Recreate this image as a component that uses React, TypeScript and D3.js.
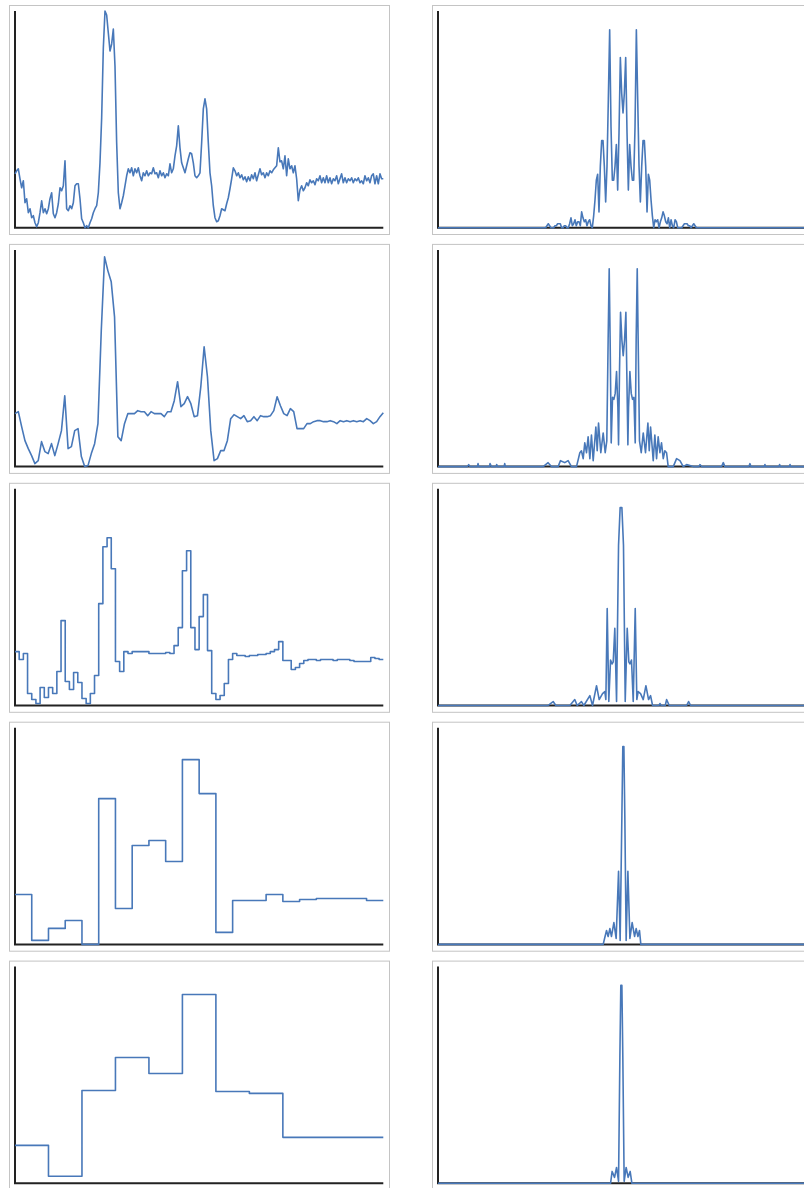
import React from 'react';
import * as d3 from 'd3';

// ---- left column: the signal and its coarser approximations (arbitrary units) ----
const signalRaw = [
  54, 57, 59, 49, 40, 47, 25, 29, 15, 19,
  10, 12, 5, 1, 5, 15, 27, 15, 19, 14,
  19, 29, 35, 14, 10, 15, 24, 40, 37, 42,
  67, 19, 17, 22, 19, 25, 42, 44, 44, 29,
  9, 5, 0, 2, 0, 5, 9, 15, 19, 22,
  35, 65, 110, 180, 217, 213, 195, 177, 184, 199,
  162, 85, 35, 19, 25, 32, 42, 52, 59, 55,
  60, 52, 59, 55, 60, 52, 47, 55, 52, 57,
  52, 55, 54, 60, 54, 55, 50, 57, 52, 55,
  50, 54, 52, 64, 55, 59, 72, 82, 102, 80,
  65, 60, 55, 62, 69, 75, 74, 65, 52, 50,
  52, 55,
  85, 119, 129, 119, 85, 55, 42, 22, 10, 6,
  7, 12, 19, 18, 17, 24, 30, 39, 49, 60,
  57, 52, 55, 50, 53, 48, 51, 46, 51, 47,
  53, 49, 55, 47, 53, 59, 53, 55, 50, 55,
  52, 57, 55, 58, 60, 62, 80, 66, 67, 59,
  72, 52, 69, 59, 62, 55, 62, 49, 27, 38,
  42, 37, 40, 45, 42, 48, 45, 47, 43, 49,
  47, 52, 45, 50, 45, 52, 45, 50, 44, 49,
  47, 52, 44, 49, 54, 45, 50, 45, 49, 47,
  50, 45, 49, 47, 50, 45, 47, 44, 52, 47,
  50, 45, 52, 54, 44, 52, 44, 54, 49, 49,
];

const signalSmooth = [
  53, 55, 40, 26, 18, 11, 3, 6, 25, 15,
  13, 23, 11, 23, 36, 71, 18, 20, 36, 38,
  10, 0, 1, 13, 23, 43, 136, 210, 196, 185,
  150, 30, 26, 43, 53, 53, 53, 56, 55, 55,
  51, 55, 53, 53, 53, 50, 55, 55, 66, 85,
  60, 63, 70, 63, 50, 51,
  80, 120, 90, 36, 6, 8, 16, 16, 26, 48,
  52, 50, 48, 51, 45, 46, 50, 46, 51, 50,
  50, 51, 56, 70, 61, 53, 51, 58, 55, 38,
  38, 38, 43, 43, 45, 46, 46, 45, 45, 46,
  45, 43, 46, 45, 46, 45, 46, 45, 46, 45,
  48, 46, 43, 45, 50, 54,
];

const approxLevel3 = [
  54, 46, 52, 12, 6, 2, 18, 8, 18, 12,
  34, 85, 24, 16, 33, 23, 7, 2, 12, 30,
  102, 159, 168, 137, 44, 34, 54, 52, 54, 54,
  54, 54, 52, 52, 52, 52, 53, 52, 60, 78,
  135, 155, 78, 56, 89, 111, 55, 12, 6, 10,
  22, 46, 52, 50, 50, 49, 50, 50, 51, 51,
  52, 54, 56, 64, 45, 45, 36, 38, 42, 45,
  46, 46, 45, 46, 46, 46, 45, 46, 46, 46,
  45, 44, 44, 44, 44, 48, 47, 46,
];

const approxLevel4 = [50, 4, 16, 24, 0, 146, 36, 99, 104, 83, 185, 151, 12, 44, 44, 50, 43, 45, 46, 46, 46, 44];

const approxLevel5 = [38, 7, 93, 126, 110, 189, 92, 90, 46, 46, 46];

// ---- right column: magnitude spectra (centred frequency, % of peak) ----
const spectrumRawStart = -57.35;
const spectrumRaw = [
  0, 1, 2, 1, 0, 0, 0, 1, 1, 2,
  2, 2, 0, 0, 1, 1, 0, 0, 2, 5,
  1, 2, 4, 1, 3, 3, 1, 8, 5, 3,
  4, 1, 3, 4, 1, 0, 6, 14, 24, 27,
  8, 31, 44, 44, 31, 13, 31, 65, 100, 51,
  24, 24, 31, 42, 19, 48, 86, 68, 58, 68,
  86, 48, 19, 42, 31, 24, 24, 51, 100, 65,
  31, 13, 31, 44, 44, 31, 8, 27, 24, 14,
  6, 0, 4, 3, 4, 0, 3, 5, 8, 6,
  3, 2, 5, 0, 4, 1, 0, 4, 3, 0,
  0, 0, 0, 1, 2, 2, 2, 1, 1, 0,
  1, 2, 1, 0, 0, 0, 0,
];

const spectrumSmooth = [
  [-116, 0], [-115, 1], [-114, 0], [-108.5, 0], [-108, 1.5], [-107.5, 0], [-99.5, 0], [-99, 1.5],
  [-98, 0], [-94.5, 0], [-94, 1], [-93.5, 0], [-88.5, 0], [-88, 1.5], [-87.5, 0],
  [-59.2, 0], [-55.5, 2], [-53, 0], [-48, 0], [-46.2, 3], [-43, 2], [-40.5, 3], [-38, 0],
  [-34.2, 0], [-31.7, 7], [-30.5, 8], [-29.2, 4], [-28, 12], [-26.7, 7], [-25.5, 15], [-24.2, 4],
  [-23, 16], [-21.7, 3], [-19.7, 20], [-18.7, 8], [-17.7, 22], [-16, 7], [-14.2, 17], [-12.7, 7],
  [-11.5, 13], [-10.5, 64], [-9.7, 100], [-9, 64], [-8.2, 12], [-7.2, 35], [-6.2, 34], [-5.2, 37],
  [-4.2, 48], [-3.2, 30], [-2.7, 11], [-2, 47], [-1.2, 78], [-0.2, 64], [0.8, 56], [1.8, 64],
  [2.8, 78], [3.5, 47], [4.3, 11], [4.8, 30], [5.8, 48], [6.8, 37], [7.8, 34], [8.8, 35],
  [9.8, 12], [10.5, 64], [11.3, 100], [12, 64], [13, 13], [14.3, 7], [15.8, 17], [17.5, 7],
  [19.3, 22], [20.3, 8], [21.3, 20], [23.3, 3], [24.5, 16], [25.8, 4], [27, 15], [28.3, 7],
  [29.5, 12], [30.8, 4], [32, 8], [33.3, 7], [34.5, 0], [38.3, 0], [40.8, 4], [43.3, 3],
  [45.8, 0], [48.3, 1], [53.3, 0], [57.5, 0], [58.3, 1], [59.5, 0], [74.5, 0], [75.8, 2], [77, 0],
  [95, 0], [95.8, 1.5], [96.5, 0], [106.5, 0], [107, 1], [107.5, 0], [117.5, 0], [118, 1],
  [118.5, 0], [125.3, 0], [125.8, 1], [126.3, 0],
];

const spectrumLevel3 = [
  [-55.5, 0], [-53.7, 1], [-51.7, 2], [-49.7, 0], [-39.2, 0], [-35.5, 3], [-33.7, 0], [-30.5, 2],
  [-28.7, 0], [-24.2, 5], [-22.2, 0], [-19.2, 10], [-17.2, 3], [-14.7, 6], [-13, 7], [-12.2, 3],
  [-11.2, 49], [-10, 2], [-8.7, 23], [-7.5, 21], [-6.7, 22], [-5.5, 39], [-4.2, 2], [-2.7, 81],
  [-1.5, 100], [-0.2, 100], [1, 81], [2.3, 2], [3.8, 39], [5, 22], [5.8, 21], [7, 23],
  [8.3, 2], [9.8, 49], [11, 3], [12, 7], [13.8, 6], [15.8, 3], [17.8, 10], [19.8, 3],
  [21.3, 5], [22.8, 0], [27.5, 0], [28.3, 1], [29.3, 0], [32.3, 0], [33.3, 3], [35.3, 0],
  [48.3, 0], [49.8, 2], [51.3, 0],
];

const spectrumLevel4 = [
  [-14.2, 0], [-13, 3.5], [-11.7, 7], [-10.5, 4], [-9.2, 8], [-8, 4], [-6.2, 11], [-4.5, 3],
  [-2.7, 37], [-1.5, 2], [-0.2, 65], [0.5, 100], [1.3, 100], [2, 65], [3, 2], [4.3, 37],
  [5.8, 3], [7.5, 11], [9.3, 4], [10.5, 8], [11.8, 4], [13, 7], [14, 0],
];

const spectrumLevel5 = [
  [-8.7, 0], [-7.5, 6], [-5.7, 3], [-4.2, 8], [-2.7, 1], [-1.7, 64], [-1, 100], [-0.2, 100],
  [0.5, 64], [1.5, 1], [3, 8], [4.5, 3], [6, 6], [7.3, 0],
];

const FREQ_EDGES = [-138, 138];
const SPEC_MAX = 109.5;

// layout
const W = 804;
const H = 1188;
const ROW_TOP = 5;
const ROW_PITCH = 238.9;
const BOX_W = 380;
const BOX_H = 229;
const COL_X = [9, 432];
const PAD_LEFT = 6;
const PAD_TOP = 6;
const PLOT_W = 368.3;
const PLOT_H = 216.7;
const LINE = '#4878b9';

type Plot = { left: number; right: number; top: number; bottom: number };

const leftSeries = [
  { values: signalRaw, step: false },
  { values: signalSmooth, step: false },
  { values: approxLevel3, step: true },
  { values: approxLevel4, step: true },
  { values: approxLevel5, step: true },
];

const rightSeries: number[][][] = [
  spectrumRaw.map((m, i) => [spectrumRawStart + i, m]),
  spectrumSmooth,
  spectrumLevel3,
  spectrumLevel4,
  spectrumLevel5,
];

const yDomain = d3.extent(signalRaw) as [number, number];

function plotFor(col: number, row: number): Plot {
  const left = COL_X[col] + PAD_LEFT;
  const top = ROW_TOP + row * ROW_PITCH + PAD_TOP;
  return { left, right: left + PLOT_W, top, bottom: top + PLOT_H };
}

function leftPath(s: { values: number[]; step: boolean }, p: Plot) {
  const n = s.values.length;
  const x = d3.scaleLinear().domain([0, s.step ? n : n - 1]).range([p.left, p.right]);
  const y = d3.scaleLinear().domain(yDomain).range([p.bottom, p.top]);
  const pts: [number, number][] = s.values.map((v, i) => [i, v]);
  if (s.step) pts.push([n, s.values[n - 1]]);
  return d3
    .line<[number, number]>()
    .x((d) => x(d[0]))
    .y((d) => y(d[1]))
    .curve(s.step ? d3.curveStepAfter : d3.curveLinear)(pts);
}

function rightPath(data: number[][], p: Plot) {
  const x = d3.scaleLinear().domain(FREQ_EDGES).range([p.left, p.right]);
  const y = d3.scaleLinear().domain([0, SPEC_MAX]).range([p.bottom, p.top]);
  const pts = [[FREQ_EDGES[0], 0], ...data, [FREQ_EDGES[1], 0]];
  return d3
    .line<number[]>()
    .x((d) => x(d[0]))
    .y((d) => y(d[1]))(pts);
}

function Panel({ col, row, d }: { col: number; row: number; d: string | null }) {
  const p = plotFor(col, row);
  const bx = COL_X[col];
  const by = ROW_TOP + row * ROW_PITCH;
  return (
    <g>
      <rect x={bx + 0.5} y={by + 0.5} width={BOX_W} height={BOX_H} fill="#fff" stroke="#c4c4c4" strokeWidth={1} />
      <path
        d={`M${p.left},${p.top}V${p.bottom}H${p.right}`}
        fill="none"
        stroke="#222"
        strokeWidth={2}
      />
      <path d={d || ''} fill="none" stroke={LINE} strokeWidth={1.6} strokeLinejoin="round" />
    </g>
  );
}

export default function App() {
  return (
    <svg width={W} height={H} style={{ position: 'absolute', left: 0, top: 0, background: '#fff' }}>
      {leftSeries.map((s, r) => (
        <Panel key={`l${r}`} col={0} row={r} d={leftPath(s, plotFor(0, r))} />
      ))}
      {rightSeries.map((s, r) => (
        <Panel key={`r${r}`} col={1} row={r} d={rightPath(s, plotFor(1, r))} />
      ))}
    </svg>
  );
}
